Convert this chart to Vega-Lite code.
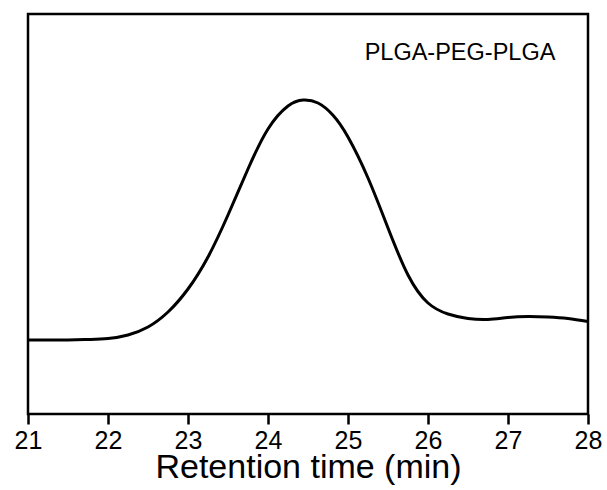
{
  "$schema": "https://vega.github.io/schema/vega-lite/v6.json",
  "width": 560,
  "height": 400,
  "autosize": "none",
  "padding": {"left": 28, "top": 14, "right": 19, "bottom": 76},
  "background": "white",
  "config": {
    "view": {"stroke": "black", "strokeWidth": 2.5},
    "font": "Liberation Sans"
  },
  "datasets": {
    "curve": [
      {"t": 21.0, "v": 74},
      {"t": 21.5, "v": 74},
      {"t": 21.75, "v": 74.5},
      {"t": 22.0, "v": 75.5},
      {"t": 22.25, "v": 79},
      {"t": 22.5, "v": 87},
      {"t": 22.75, "v": 102},
      {"t": 23.0, "v": 125},
      {"t": 23.25, "v": 157},
      {"t": 23.5, "v": 199},
      {"t": 23.75, "v": 245},
      {"t": 24.0, "v": 285},
      {"t": 24.25, "v": 308},
      {"t": 24.44, "v": 314},
      {"t": 24.625, "v": 311},
      {"t": 24.81, "v": 299},
      {"t": 25.0, "v": 277},
      {"t": 25.25, "v": 236},
      {"t": 25.5, "v": 186},
      {"t": 25.75, "v": 139},
      {"t": 26.0, "v": 111},
      {"t": 26.25, "v": 100},
      {"t": 26.5, "v": 95.5},
      {"t": 26.75, "v": 94.5},
      {"t": 27.0, "v": 96.5},
      {"t": 27.25, "v": 97.5},
      {"t": 27.5, "v": 97},
      {"t": 27.75, "v": 95.5},
      {"t": 28.0, "v": 92.5}
    ],
    "label": [{"t": 26.4, "v": 361.5, "text": "PLGA-PEG-PLGA"}]
  },
  "layer": [
    {
      "data": {"name": "curve"},
      "mark": {"type": "line", "color": "black", "strokeWidth": 3, "interpolate": "natural"},
      "encoding": {
        "x": {
          "field": "t", "type": "quantitative",
          "scale": {"domain": [21, 28], "nice": false, "zero": false},
          "axis": {
            "title": "Retention time (min)",
            "values": [21, 22, 23, 24, 25, 26, 27, 28],
            "format": "d",
            "domain": false,
            "grid": false,
            "tickColor": "black",
            "tickWidth": 2.5,
            "tickSize": 10,
            "labelColor": "black",
            "labelFontSize": 25,
            "labelPadding": 4,
            "labelFlush": false,
            "titleColor": "black",
            "titleFontSize": 34,
            "titleFontWeight": "normal",
            "titlePadding": -3
          }
        },
        "y": {
          "field": "v", "type": "quantitative",
          "scale": {"domain": [0, 400], "nice": false},
          "axis": null
        }
      }
    },
    {
      "data": {"name": "label"},
      "mark": {"type": "text", "fontSize": 23.5, "color": "black", "align": "center", "baseline": "middle"},
      "encoding": {
        "x": {"field": "t", "type": "quantitative"},
        "y": {"field": "v", "type": "quantitative"},
        "text": {"field": "text"}
      }
    }
  ]
}
